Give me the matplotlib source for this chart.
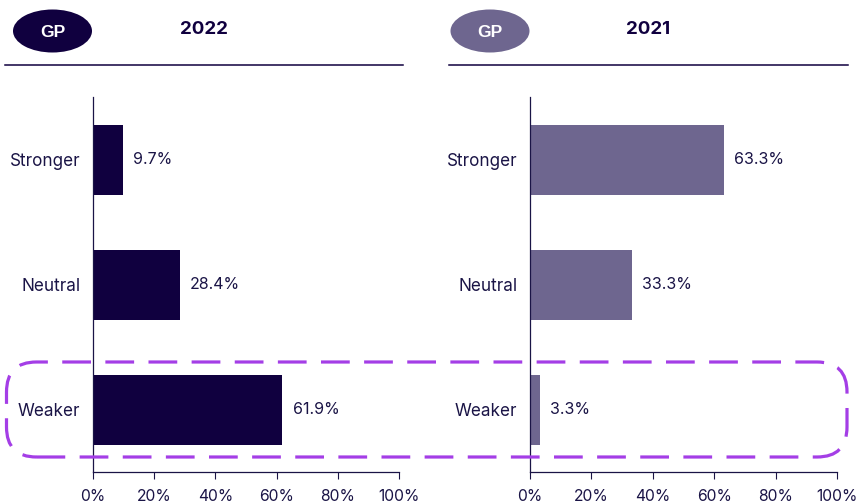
import matplotlib
matplotlib.use("Agg")
import matplotlib.pyplot as plt
from matplotlib.patches import Ellipse, FancyBboxPatch
from matplotlib.lines import Line2D

plt.rcParams['font.family'] = ['Inter', 'DejaVu Sans']

categories = ["Stronger", "Neutral", "Weaker"]
values_2022 = [9.7, 28.4, 61.9]
values_2021 = [63.3, 33.3, 3.3]
xticks = [0, 20, 40, 60, 80, 100]
xtick_labels = ["0%", "20%", "40%", "60%", "80%", "100%"]

DARK = "#10003f"
LIGHT = "#6e668f"
TEXT = "#1a1446"
PURPLE = "#a43ee6"

W, H = 8.57, 5.04
fig = plt.figure(figsize=(W, H), dpi=100)

def fx(px):
    return px / 857.0

def fy(py):
    return 1 - py / 504.0

panels = [
    (93, 399, values_2022, DARK, "2022", 52.5, 204),
    (530, 837, values_2021, LIGHT, "2021", 490, 648),
]

for left_px, right_px, vals, color, year, ell_x, year_x in panels:
    ax = fig.add_axes([fx(left_px), fy(472), fx(right_px - left_px), (472 - 97) / 504.0])
    y = list(range(len(categories)))
    ax.barh(y, vals, height=0.56, color=color)
    for yi, v in zip(y, vals):
        ax.text(v + 3.3, yi, f"{v}%", va="center", ha="left", fontsize=11.5, color=TEXT)
    ax.set_xlim(0, 100)
    ax.set_ylim(2.5, -0.5)
    ax.set_yticks(y)
    ax.set_yticklabels(categories, fontsize=12.3, color=TEXT)
    ax.tick_params(axis="y", length=0, pad=9)
    ax.set_xticks(xticks)
    ax.set_xticklabels(xtick_labels, fontsize=11.3, color=TEXT)
    ax.tick_params(axis="x", length=5, width=0.8, color=TEXT, pad=7)
    for s in ["top", "right"]:
        ax.spines[s].set_visible(False)
    for s in ["left", "bottom"]:
        ax.spines[s].set_color(TEXT)
        ax.spines[s].set_linewidth(0.9)

    # header ellipse and title
    e = Ellipse((ell_x / 100.0, (504 - 31) / 100.0), 0.79, 0.43,
                transform=fig.dpi_scale_trans, facecolor=color, edgecolor="none")
    fig.patches.append(e)
    fig.text(fx(ell_x), fy(31), "GP", ha="center", va="center_baseline", fontsize=12.5,
             fontweight="bold", color="white", family=["Liberation Sans", "DejaVu Sans"])
    fig.text(fx(year_x), fy(30), year, ha="center", va="center", fontsize=13.5,
             fontweight="bold", color=DARK)

# header rules
fig.add_artist(Line2D([fx(5), fx(403)], [fy(65), fy(65)], color=DARK, lw=1.1))
fig.add_artist(Line2D([fx(449), fx(848)], [fy(65), fy(65)], color=DARK, lw=1.1))

# dashed highlight box
box = FancyBboxPatch((0.065, (504 - 457) / 100.0), 8.47 - 0.065, (457 - 362) / 100.0,
                     boxstyle="round,pad=0,rounding_size=0.3",
                     transform=fig.dpi_scale_trans, facecolor="none",
                     edgecolor=PURPLE, linewidth=2.3, linestyle=(0, (9, 4.5)),
                     zorder=10)
fig.patches.append(box)

fig.savefig("out.png", dpi=100)
